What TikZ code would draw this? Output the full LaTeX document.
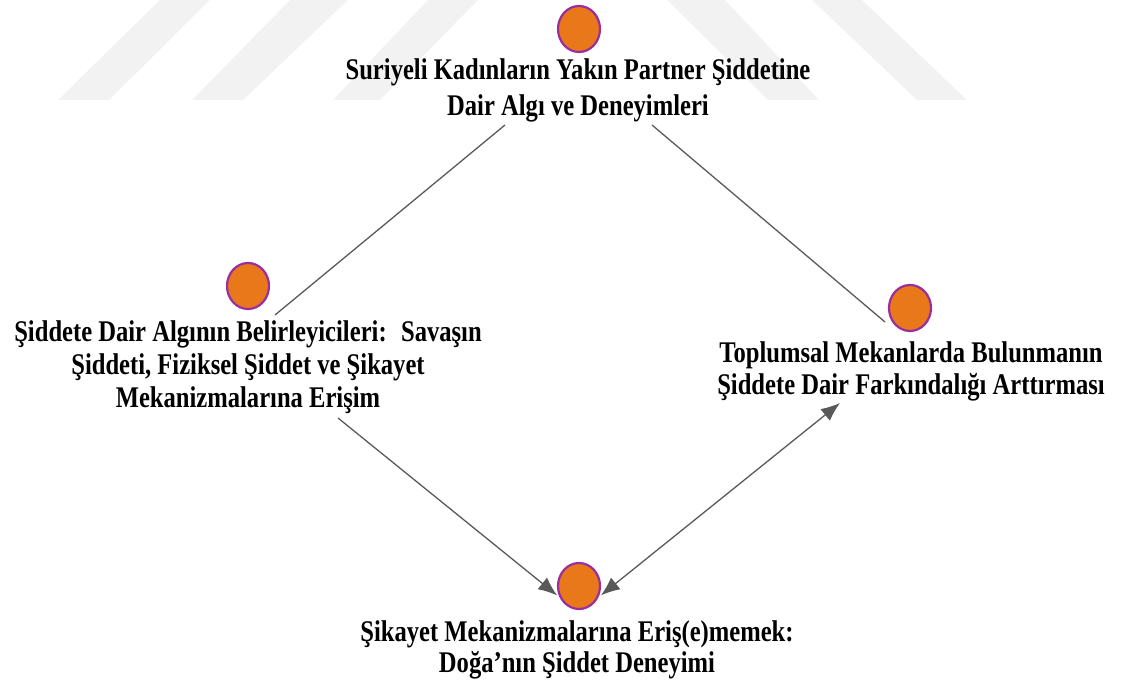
\documentclass[tikz,border=0pt]{standalone}
\usepackage{fontspec}
\setmainfont{Liberation Serif}[FakeStretch=0.82]
\usetikzlibrary{arrows.meta,shapes.geometric}
\definecolor{dotfill}{HTML}{E8781A}
\definecolor{dotline}{HTML}{9A2E9E}
\definecolor{conn}{HTML}{595959}
\definecolor{wm}{HTML}{F2F2F2}
\begin{document}
\begin{tikzpicture}[x=1pt,y=-1pt,
  dot/.style={ellipse, draw=dotline, fill=dotfill, line width=2.2pt, minimum width=42pt, minimum height=46pt, inner sep=0pt},
  lbl/.style={align=center, inner sep=0pt},
  conline/.style={draw=conn, line width=1.3pt},
  arr/.style={conline, -{Latex[length=19pt,width=15pt]}},
  dblarr/.style={conline, {Latex[length=19pt,width=15pt]}-{Latex[length=19pt,width=15pt]}}
]
\useasboundingbox (0,0) rectangle (1122,684);
% watermark
\fill[wm] (58,100) -- (109,100) -- (210,0) -- (160,0) -- cycle;
\fill[wm] (192,100) -- (243,100) -- (348,0) -- (290,0) -- cycle;
\fill[wm] (333,100) -- (380,100) -- (478,0) -- (428,0) -- cycle;
\fill[wm] (667,0) -- (725,0) -- (819,100) -- (768,100) -- cycle;
\fill[wm] (812,0) -- (862,0) -- (967,100) -- (917,100) -- cycle;
% nodes
\node[dot] (c1) at (579,29) {};
\node[lbl, font=\fontsize{30}{36}\selectfont\bfseries] (l1) at (578,90) {Suriyeli Kadınların Yakın Partner Şiddetine\\Dair Algı ve Deneyimleri};
\node[dot] (c2) at (248,286) {};
\node[lbl, font=\fontsize{30}{33}\selectfont\bfseries] (l2) at (248,367) {Şiddete Dair Algının Belirleyicileri:~ Savaşın\\Şiddeti, Fiziksel Şiddet ve Şikayet\\Mekanizmalarına Erişim};
\node[dot] (c3) at (910,308) {};
\node[lbl, font=\fontsize{30}{32}\selectfont\bfseries] (l3) at (911,371) {Toplumsal Mekanlarda Bulunmanın\\Şiddete Dair Farkındalığı Arttırması};
\node[dot] (c4) at (579,586) {};
\node[lbl, font=\fontsize{30}{31}\selectfont\bfseries] (l4) at (577,650) {Şikayet Mekanizmalarına Eriş(e)memek:\\Doğa’nın Şiddet Deneyimi};
% connector ends
\coordinate (a1) at (505,125);
\coordinate (a2) at (275,315);
\coordinate (b1) at (652,125);
\coordinate (b2) at (885,322);
\coordinate (d1) at (338,418);
\coordinate (e1) at (840,403);
% connectors
\draw[conline] (a1) -- (a2);
\draw[conline] (b1) -- (b2);
\draw[arr, shorten >=3pt] (d1) -- (c4.210);
\draw[dblarr, shorten <=3pt] (c4.330) -- (e1);
\end{tikzpicture}
\end{document}
